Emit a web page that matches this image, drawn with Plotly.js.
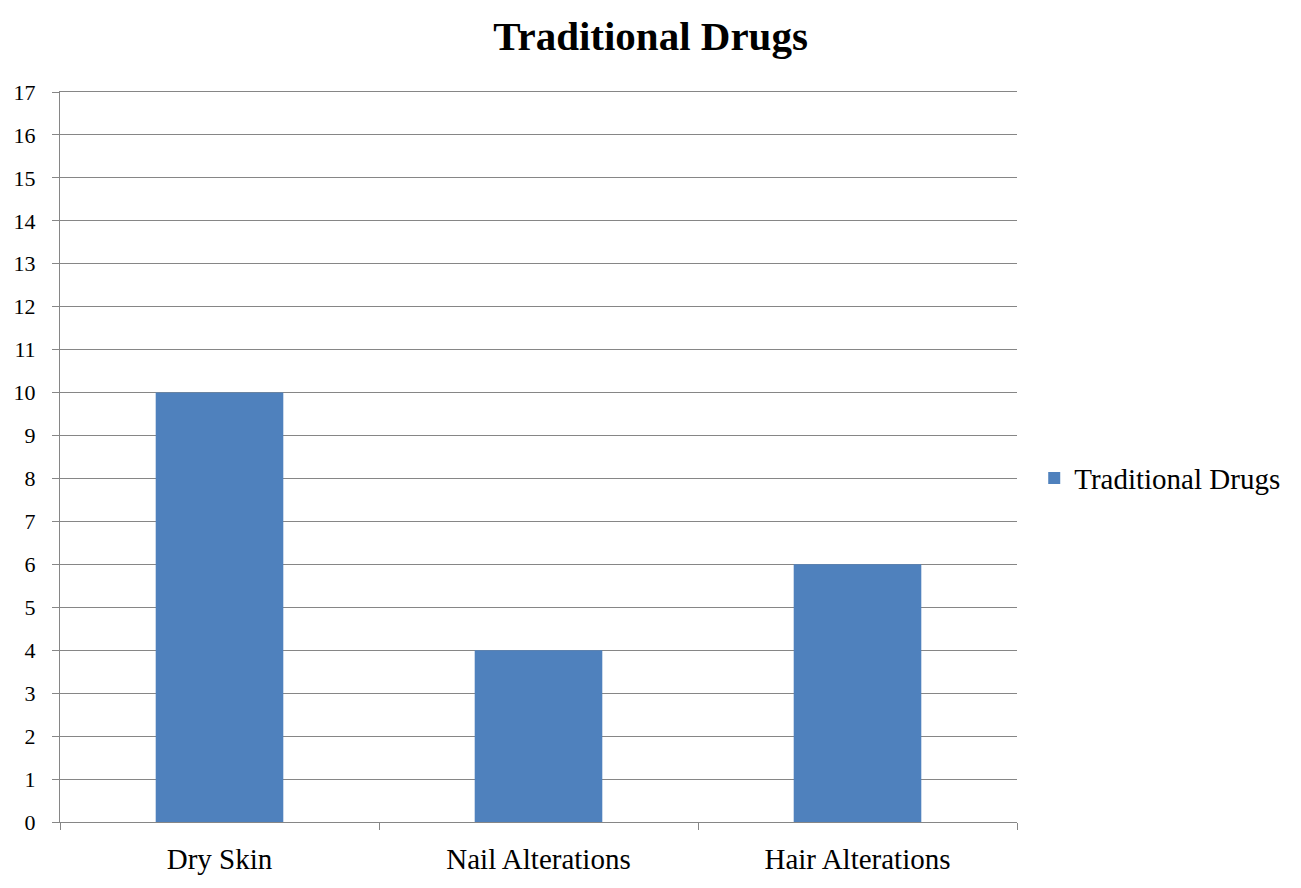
<!DOCTYPE html>
<html><head><meta charset="utf-8">
<script src="https://cdn.plot.ly/plotly-3.0.1.min.js"></script>
<style>html,body{margin:0;padding:0;background:#fff;}#chart{width:1301px;height:888px;}</style>
</head><body><div id="chart"></div>
<script>
var categories = ["Dry Skin", "Nail Alterations", "Hair Alterations"];
var seriesName = "Traditional Drugs";
var values = [10, 4, 6];
var yTicks = [0,1,2,3,4,5,6,7,8,9,10,11,12,13,14,15,16,17];

var font = "Liberation Serif, Times New Roman, serif";
var grid = "#868686";
Plotly.newPlot("chart", [{
  type: "bar", x: categories, y: values, name: seriesName,
  marker: {color: "#4F81BD"}, showlegend: true
}], {
  width: 1301, height: 888,
  margin: {l: 60, r: 284, t: 92, b: 66},
  paper_bgcolor: "#fff", plot_bgcolor: "#fff",
  bargap: 0.6,
  title: {text: "<b>Traditional Drugs</b>", x: 0.5, xref: "container", xanchor: "center",
          y: 1, yref: "container", yanchor: "top", pad: {t: 21},
          font: {family: font, size: 41, color: "#000"}},
  xaxis: {type: "category", tickson: "boundaries", ticks: "outside", ticklen: 7, tickcolor: grid,
          showline: true, mirror: true, linecolor: grid, linewidth: 1, showgrid: false,
          tickfont: {family: font, size: 29, color: "#000"}, ticklabelstandoff: 11},
  yaxis: {range: [0, 17], tickvals: yTicks, ticktext: yTicks.map(String),
          ticks: "outside", ticklen: 7, tickcolor: grid,
          showline: true, linecolor: grid, linewidth: 1,
          showgrid: true, gridcolor: grid, gridwidth: 1, zeroline: false,
          tickfont: {family: font, size: 22, color: "#000"}, ticklabelstandoff: 12},
  legend: {x: 1.018, xanchor: "left", y: 0.471, yanchor: "middle",
           font: {family: font, size: 29, color: "#000"}, itemwidth: 30}
}, {staticPlot: true});
</script></body></html>
